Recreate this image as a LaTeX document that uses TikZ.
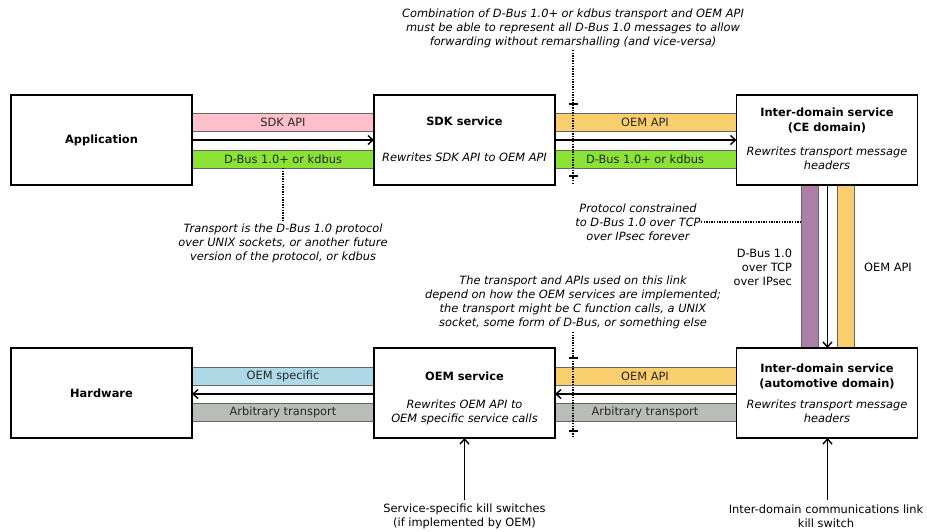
\documentclass[tikz,border=0pt]{standalone}
\usepackage{fontspec}
\setmainfont{DejaVu Sans}
\usetikzlibrary{arrows.meta}
\definecolor{bpink}{HTML}{FFC0CB}
\definecolor{bgreen}{HTML}{8AE234}
\definecolor{borange}{HTML}{F9CE6C}
\definecolor{bblue}{HTML}{ADD8E6}
\definecolor{bgrey}{HTML}{BABDB6}
\definecolor{bpurple}{HTML}{AD7FA8}
\begin{document}
\begin{tikzpicture}[x=1pt,y=-1pt,
  every node/.style={inner sep=0pt, outer sep=0pt},
  box/.style={draw=black, line width=1.7pt, fill=white, minimum width=181pt, minimum height=90pt, align=center, font=\fontsize{11.4}{14}\selectfont\bfseries},
  title/.style={align=center, font=\fontsize{11.4}{15}\selectfont\bfseries},
  desc/.style={align=center, font=\fontsize{11.4}{14}\selectfont\itshape},
  note/.style={align=center, font=\fontsize{11.4}{14}\selectfont\itshape},
  plain/.style={align=center, font=\fontsize{11.4}{14}\selectfont},
  hband/.style={draw=black!60, line width=0.7pt, minimum width=182pt, minimum height=18pt, font=\fontsize{11.4}{14}\selectfont, text=black!85},
  vband/.style={draw=black!60, line width=0.7pt, minimum width=17pt, minimum height=163pt},
  arr/.style={line width=1.4pt, -{Straight Barb[length=5pt,width=9pt]}},
  dotl/.style={line width=1.3pt, dash pattern=on 1.3pt off 1.3pt},
  tickl/.style={line width=1.3pt},
]
\useasboundingbox (0,0) rectangle (927,531);

% horizontal bands (top)
\node[hband, fill=bpink]   (b1) at (283,122) {SDK API};
\node[hband, fill=bgreen]  (b2) at (283,159) {D-Bus 1.0+ or kdbus};
\node[hband, fill=borange] (b3) at (645,122) {OEM API};
\node[hband, fill=bgreen]  (b4) at (645,159) {D-Bus 1.0+ or kdbus};
% horizontal bands (bottom)
\node[hband, fill=bblue]   (b5) at (283,376) {OEM specific};
\node[hband, fill=bgrey]   (b6) at (283,412.5) {Arbitrary transport};
\node[hband, fill=borange] (b7) at (645,376) {OEM API};
\node[hband, fill=bgrey]   (b8) at (645,412.5) {Arbitrary transport};
% vertical bands
\node[vband, fill=bpurple] (v1) at (809.5,266.5) {};
\node[vband, fill=borange] (v2) at (846,266.5) {};

% boxes
\node[box] (app)  at (101.5,140) {Application};
\node[box] (sdk)  at (464.5,140) {};
\node[box] (ce)   at (827,140) {};
\node[box] (hw)   at (101.5,393) {Hardware};
\node[box] (oem)  at (464.5,393) {};
\node[box] (auto) at (827,393) {};

\node[title] (sdkt) at (464.5,121.5) {SDK service};
\node[desc]  (sdkd) at (464.5,157.5) {Rewrites SDK API to OEM API};
\node[title] (cet)  at (827,120) {Inter-domain service\\(CE domain)};
\node[desc]  (ced)  at (827,158) {Rewrites transport message\\headers};
\node[title] (oemt) at (464.5,376) {OEM service};
\node[desc]  (oemd) at (464.5,412) {Rewrites OEM API to\\OEM specific service calls};
\node[title] (autot) at (827,376) {Inter-domain service\\(automotive domain)};
\node[desc]  (autod) at (827,411.5) {Rewrites transport message\\headers};

% arrows
\coordinate (yTop) at (0,140);
\coordinate (yBot) at (0,394);
\coordinate (xV) at (827.5,0);
\draw[arr] (app.east |- yTop) -- (sdk.west |- yTop);
\draw[arr] (sdk.east |- yTop) -- (ce.west |- yTop);
\draw[arr] (oem.west |- yBot) -- (hw.east |- yBot);
\draw[arr] (auto.west |- yBot) -- (oem.east |- yBot);
\draw[arr] (ce.south -| xV) -- (auto.north -| xV);

% annotations
\node[note] (n1) at (573,28.3) {Combination of D-Bus 1.0+ or kdbus transport and OEM API\\must be able to represent all D-Bus 1.0 messages to allow\\forwarding without remarshalling (and vice-versa)};
\node[note] (n2) at (283,243) {Transport is the D-Bus 1.0 protocol\\over UNIX sockets, or another future\\version of the protocol, or kdbus};
\node[note] (n3) at (638,222) {Protocol constrained\\to D-Bus 1.0 over TCP\\over IPsec forever};
\node[note] (n4) at (573,302) {The transport and APIs used on this link\\depend on how the OEM services are implemented;\\the transport might be C function calls, a UNIX\\socket, some form of D-Bus, or something else};

\node[plain, align=right, anchor=east] (vl1) at (792,267) {D-Bus 1.0\\over TCP\\over IPsec};
\node[plain] (vl2) at (888,267.5) {OEM API};

% dotted lines
\coordinate (d1a) at (573,50);
\coordinate (d1b) at (573,183);
\draw[dotl] (d1a) -- (d1b);
\draw[tickl] (568.5,104) -- (577.5,104);
\draw[tickl] (568.5,176) -- (577.5,176);
\coordinate (d2a) at (573,332);
\coordinate (d2b) at (573,437);
\draw[dotl] (d2a) -- (d2b);
\draw[tickl] (568.5,358) -- (577.5,358);
\draw[tickl] (568.5,431) -- (577.5,431);
\coordinate (d3) at (283,221);
\draw[dotl] (b2.south) -- (d3);
\coordinate (d4) at (701,222);
\draw[dotl] (d4) -- (v1.west |- d4);

% kill switches
\node[plain] (k1) at (464.5,516.5) {Service-specific kill switches\\(if implemented by OEM)};
\node[plain] (k2) at (826,516.5) {Inter-domain communications link\\kill switch};
\coordinate (k1a) at (464.5,500);
\coordinate (k2a) at (827.5,500);
\draw[arr] (k1a) -- (oem.south);
\draw[arr] (k2a) -- (auto.south -| k2a);
\end{tikzpicture}
\end{document}
